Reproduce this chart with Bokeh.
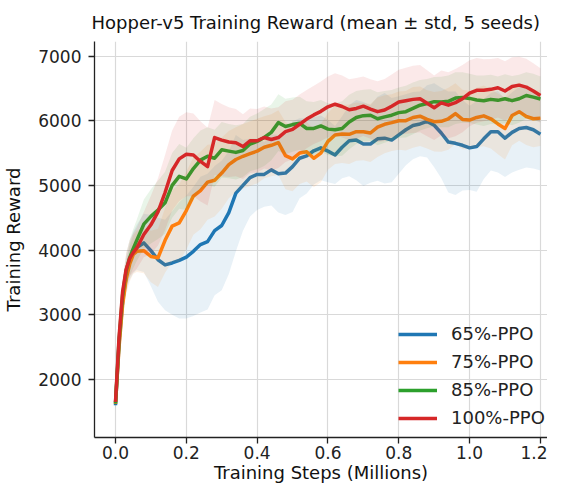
from bokeh.plotting import figure
from bokeh.models import Range1d, Legend, LegendItem, FixedTicker
from bokeh.embed import file_html
from bokeh.resources import INLINE

steps = [0.00, 0.01, 0.02, 0.03, 0.04, 0.05, 0.06,
         0.08, 0.10, 0.12, 0.14, 0.16, 0.18, 0.20, 0.22, 0.24, 0.26, 0.28, 0.30,
         0.32, 0.34, 0.36, 0.38, 0.40, 0.42, 0.44, 0.46, 0.48, 0.50, 0.52, 0.54,
         0.56, 0.58, 0.60, 0.62, 0.64, 0.66, 0.68, 0.70, 0.72, 0.74, 0.76, 0.78,
         0.80, 0.82, 0.84, 0.86, 0.88, 0.90, 0.92, 0.94, 0.96, 0.98, 1.00, 1.02,
         1.04, 1.06, 1.08, 1.10, 1.12, 1.14, 1.16, 1.18, 1.20]

mean_65 = [1600, 2550, 3200, 3600, 3820, 3960, 4040,
           4110, 3990, 3850, 3770, 3800, 3840, 3890, 3980, 4085, 4130, 4300, 4380,
           4580, 4880, 5000, 5120, 5170, 5170, 5240, 5180, 5190, 5290, 5420, 5455,
           5535, 5580, 5530, 5470, 5590, 5690, 5700, 5640, 5640, 5720, 5730, 5700,
           5780, 5860, 5925, 5950, 5990, 5930, 5810, 5670, 5650, 5620, 5580, 5600,
           5720, 5830, 5830, 5730, 5820, 5880, 5895, 5860, 5790]
std_65 = [80, 150, 200, 250, 280, 320, 350,
          450, 550, 650, 700, 800, 900, 950, 1000, 1050, 1050, 1000, 1000,
          950, 900, 700, 600, 550, 500, 550, 600, 650, 700, 620, 580,
          520, 500, 480, 450, 480, 550, 620, 650, 600, 650, 700, 650,
          600, 550, 520, 500, 560, 650, 700, 780, 800, 700, 650, 700,
          620, 600, 630, 600, 620, 640, 620, 600, 560]

mean_75 = [1620, 2500, 3150, 3550, 3780, 3930, 3980,
           3990, 3900, 3880, 4150, 4370, 4420, 4610, 4835, 4920, 5050, 5080, 5190,
           5320, 5400, 5450, 5490, 5530, 5590, 5620, 5660, 5460, 5410, 5500, 5520,
           5420, 5500, 5680, 5780, 5795, 5790, 5830, 5830, 5810, 5900, 5945, 5970,
           6000, 6000, 6050, 6070, 6020, 5985, 5990, 6030, 6110, 6020, 6010, 6050,
           6075, 6030, 5950, 5880, 6080, 6140, 6065, 6030, 6040]
std_75 = [80, 150, 200, 240, 270, 300, 320,
          350, 400, 450, 500, 550, 600, 600, 600, 600, 580, 560, 550,
          520, 500, 500, 500, 500, 480, 480, 500, 520, 500, 480, 460,
          450, 450, 440, 450, 450, 460, 450, 440, 450, 460, 450, 440,
          450, 460, 470, 460, 450, 460, 470, 480, 470, 460, 450, 460,
          470, 460, 470, 480, 460, 450, 440, 440, 430]

mean_85 = [1630, 2600, 3300, 3680, 3880, 4020, 4150,
           4400, 4520, 4620, 4730, 5000, 5140, 5100, 5260, 5390, 5450, 5420, 5550,
           5530, 5510, 5540, 5640, 5680, 5740, 5820, 5970, 5910, 5940, 5960, 5880,
           5880, 5920, 5870, 5860, 5880, 5980, 6050, 6078, 6085, 6030, 6060, 6085,
           6125, 6140, 6190, 6240, 6265, 6295, 6290, 6300, 6350, 6360, 6345, 6320,
           6310, 6330, 6315, 6340, 6310, 6340, 6390, 6365, 6335]
std_85 = [80, 150, 200, 250, 280, 300, 320,
          380, 420, 450, 480, 500, 500, 480, 470, 460, 450, 440, 430,
          420, 420, 410, 420, 430, 440, 430, 440, 430, 420, 410, 420,
          410, 400, 400, 410, 420, 420, 410, 400, 400, 410, 400, 390,
          390, 400, 400, 390, 380, 380, 390, 400, 400, 390, 380, 380,
          390, 380, 370, 380, 380, 370, 360, 360, 350]

mean_100 = [1650, 2650, 3350, 3700, 3870, 3960, 4030,
            4240, 4390, 4590, 4890, 5230, 5410, 5480, 5470, 5370, 5290, 5740, 5700,
            5670, 5660, 5600, 5690, 5690, 5740, 5710, 5740, 5830, 5865, 5945, 6025,
            6090, 6145, 6215, 6255, 6220, 6170, 6190, 6225, 6180, 6140, 6165, 6225,
            6290, 6310, 6330, 6340, 6270, 6200, 6275, 6240, 6280, 6340, 6425, 6470,
            6470, 6485, 6510, 6460, 6530, 6550, 6520, 6460, 6390]
std_100 = [80, 150, 200, 250, 280, 300, 320,
           350, 450, 520, 580, 620, 650, 650, 640, 620, 600, 580, 560,
           540, 520, 500, 500, 490, 480, 480, 470, 470, 460, 460, 450,
           450, 460, 470, 480, 480, 470, 470, 460, 460, 470, 480, 490,
           500, 510, 520, 520, 510, 500, 500, 510, 520, 520, 510, 500,
           480, 470, 460, 460, 450, 440, 440, 430, 420]

labels = ["65%-PPO", "75%-PPO", "85%-PPO", "100%-PPO"]
colors = ["#1f77b4", "#ff7f0e", "#2ca02c", "#d62728"]
means = [mean_65, mean_75, mean_85, mean_100]
stds = [std_65, std_75, std_85, std_100]

x_ticks = [0.0, 0.2, 0.4, 0.6, 0.8, 1.0, 1.2]
y_ticks = [2000, 3000, 4000, 5000, 6000, 7000]

FONT = "DejaVu Sans"

p = figure(width=547, height=486, output_backend="svg", toolbar_location=None,
           x_range=Range1d(-0.0593, 1.22), y_range=Range1d(1101, 7225),
           min_border_left=92, min_border_right=0, min_border_top=34,
           min_border_bottom=49)

p.title.text = "Hopper-v5 Training Reward (mean \u00b1 std, 5 seeds)"
p.title.align = "left"
p.title.offset = -3
p.title.text_font = FONT
p.title.text_font_size = "18px"
p.title.text_font_style = "normal"
p.title.text_color = "#111111"
p.title.standoff = 18

p.outline_line_color = None
p.background_fill_color = "white"
p.border_fill_color = "white"

for ax in (p.xaxis[0], p.yaxis[0]):
    ax.axis_line_color = "#222222"
    ax.axis_line_width = 1.3
    ax.major_tick_line_color = "#222222"
    ax.major_tick_line_width = 1.3
    ax.major_tick_out = 6
    ax.major_tick_in = 0
    ax.minor_tick_line_color = None
    ax.major_label_text_font = FONT
    ax.major_label_text_font_size = "17px"
    ax.major_label_text_color = "#222222"
    ax.axis_label_text_font = FONT
    ax.axis_label_text_font_size = "18px"
    ax.axis_label_text_font_style = "normal"
    ax.axis_label_text_color = "#111111"

p.xaxis.ticker = FixedTicker(ticks=x_ticks)
p.yaxis.ticker = FixedTicker(ticks=y_ticks)
p.xaxis.major_label_overrides = {t: f"{t:.1f}" for t in x_ticks}
p.xaxis.axis_label = "Training Steps (Millions)"
p.yaxis.axis_label = "Training Reward"
p.xaxis.major_label_standoff = 2
p.yaxis.major_label_standoff = 7
p.xaxis.axis_label_standoff = 0
p.yaxis.axis_label_standoff = 11

p.xgrid.grid_line_color = "#d9d9d9"
p.ygrid.grid_line_color = "#d9d9d9"
p.xgrid.grid_line_width = 1.2
p.ygrid.grid_line_width = 1.2

items = []
for lab, col, m, s in zip(labels, colors, means, stds):
    lo = [a - b for a, b in zip(m, s)]
    hi = [a + b for a, b in zip(m, s)]
    p.varea(x=steps, y1=lo, y2=hi, fill_color=col, fill_alpha=0.1)
    r = p.line(x=steps, y=m, line_color=col, line_width=3.5, line_join="round")
    items.append(LegendItem(label=lab, renderers=[r]))

legend = Legend(items=items, location=(304, 9), padding=0, spacing=7,
                glyph_width=39, glyph_height=20, label_standoff=14,
                label_text_font=FONT, label_text_font_size="18px",
                label_text_color="#222222",
                background_fill_alpha=0, border_line_alpha=0)
p.add_layout(legend, "center")

open("out.html", "w").write(file_html(p, INLINE))
